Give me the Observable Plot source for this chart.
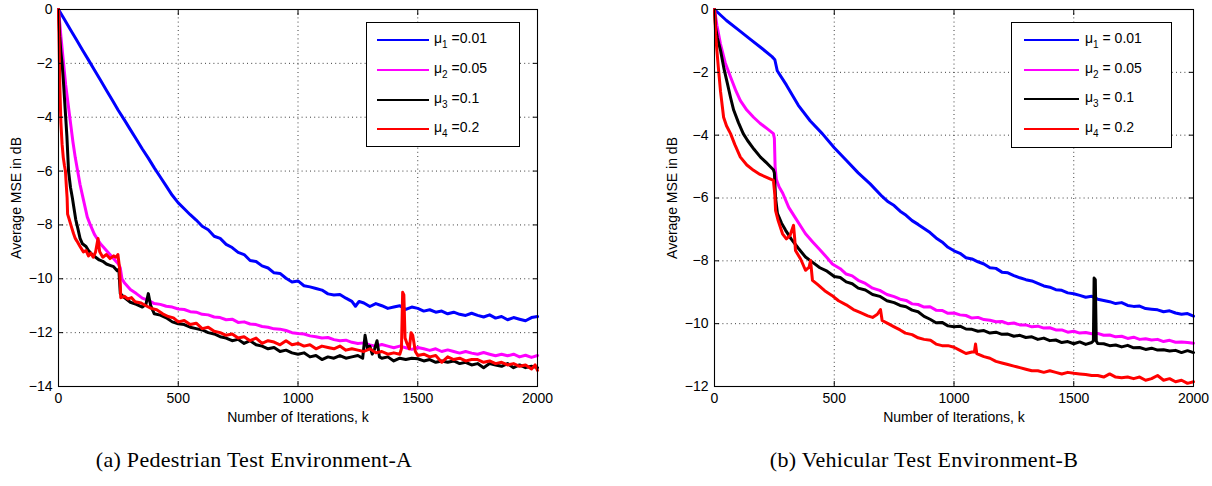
<!DOCTYPE html>
<html><head><meta charset="utf-8">
<script src="https://cdn.jsdelivr.net/npm/d3@7"></script>
<script src="https://cdn.jsdelivr.net/npm/@observablehq/plot@0.6"></script>
<style>
body{margin:0;background:#fff;}
#wrap{position:relative;width:1212px;height:486px;overflow:hidden;font-family:"Liberation Sans",Arial,sans-serif;color:#000;}
.panel{position:absolute;top:0;}
.legend{position:absolute;border:1px solid #000;background:#fff;box-sizing:border-box;}
.legend .sw{position:absolute;height:0;border-top:2.6px solid #000;}
.legend .lb{position:absolute;font-size:14px;line-height:14px;white-space:nowrap;}
.legend .lb sub{font-size:10px;vertical-align:-5px;line-height:0;}
.caption{position:absolute;font-family:"Liberation Serif","DejaVu Serif",serif;font-size:22px;letter-spacing:0.3px;white-space:nowrap;transform:translateX(-50%);}
</style>
</head><body>
<div id="wrap"></div>
<script>
// ---------- data ----------
const xTicks = [0, 500, 1000, 1500, 2000];
const yTicksA = [-14, -12, -10, -8, -6, -4, -2, 0];
const yTicksB = [-12, -10, -8, -6, -4, -2, 0];
const seriesSymbols = ["1", "2", "3", "4"];
const stepSizes = ["0.01", "0.05", "0.1", "0.2"];
const seriesColors = ["#0000ff", "#ff00ff", "#000000", "#ff0000"];
const captionA = "(a) Pedestrian Test Environment-A";
const captionB = "(b) Vehicular Test Environment-B";
const xLabel = "Number of Iterations, k";
const yLabel = "Average MSE in dB";

// Panel A (Pedestrian): [iteration, MSE dB]
const blueA = [[0,0],[25,-0.37],[50,-0.75],[75,-1.12],[100,-1.5],[125,-1.87],[150,-2.25],[175,-2.62],[200,-3.0],[225,-3.37],[250,-3.75],[275,-4.1],[300,-4.46],[325,-4.82],[350,-5.18],[375,-5.52],[400,-5.88],[425,-6.22],[450,-6.56],[475,-6.9],[500,-7.18],[525,-7.4],[550,-7.62],[575,-7.82],[600,-8.05],[625,-8.18],[650,-8.42],[675,-8.5],[700,-8.72],[725,-8.84],[750,-9.02],[775,-9.1],[800,-9.32],[825,-9.36],[850,-9.52],[875,-9.6],[900,-9.78],[925,-9.8],[950,-9.98],[975,-10.12],[1000,-10.08],[1025,-10.26],[1050,-10.3],[1075,-10.36],[1100,-10.42],[1125,-10.56],[1150,-10.6],[1175,-10.58],[1200,-10.72],[1225,-10.84],[1240,-11.02],[1255,-10.84],[1275,-10.9],[1300,-11.03],[1325,-10.92],[1350,-11.0],[1375,-11.1],[1400,-11.05],[1425,-11.0],[1450,-11.14],[1475,-11.05],[1500,-11.1],[1525,-11.2],[1550,-11.15],[1575,-11.24],[1600,-11.2],[1625,-11.3],[1650,-11.24],[1675,-11.32],[1700,-11.36],[1725,-11.28],[1750,-11.36],[1775,-11.42],[1800,-11.34],[1825,-11.46],[1850,-11.4],[1875,-11.52],[1900,-11.44],[1925,-11.5],[1950,-11.56],[1975,-11.44],[2000,-11.4]];
const magentaA = [[0,0],[10,-1.0],[20,-1.9],[30,-2.8],[40,-3.5],[50,-4.2],[60,-4.9],[70,-5.5],[80,-6.0],[90,-6.5],[100,-6.9],[110,-7.3],[120,-7.7],[133,-8.0],[150,-8.35],[175,-8.7],[200,-8.95],[225,-9.2],[250,-9.45],[258,-9.6],[265,-10.0],[275,-10.15],[300,-10.4],[325,-10.55],[350,-10.72],[375,-10.8],[400,-10.92],[425,-10.95],[450,-11.02],[475,-11.05],[500,-11.12],[525,-11.14],[550,-11.22],[575,-11.24],[600,-11.32],[625,-11.34],[650,-11.42],[675,-11.44],[700,-11.52],[725,-11.5],[750,-11.62],[775,-11.6],[800,-11.68],[825,-11.7],[850,-11.77],[875,-11.8],[900,-11.86],[925,-11.87],[950,-11.92],[975,-12.0],[1000,-12.03],[1025,-12.05],[1050,-12.12],[1075,-12.15],[1100,-12.2],[1125,-12.18],[1150,-12.26],[1175,-12.3],[1200,-12.28],[1225,-12.36],[1250,-12.4],[1275,-12.38],[1300,-12.46],[1325,-12.5],[1350,-12.44],[1375,-12.5],[1400,-12.56],[1425,-12.5],[1450,-12.56],[1475,-12.62],[1500,-12.55],[1525,-12.6],[1550,-12.66],[1575,-12.6],[1600,-12.7],[1625,-12.64],[1650,-12.7],[1675,-12.76],[1700,-12.7],[1725,-12.76],[1750,-12.8],[1775,-12.74],[1800,-12.8],[1825,-12.86],[1850,-12.8],[1875,-12.86],[1900,-12.8],[1925,-12.9],[1950,-12.84],[1975,-12.92],[2000,-12.85]];
const blackA = [[0,0],[5,-1.0],[10,-1.6],[15,-2.0],[20,-2.6],[25,-3.3],[30,-4.0],[35,-4.7],[42,-6.0],[50,-6.6],[58,-7.0],[65,-7.4],[72,-7.8],[80,-8.1],[90,-8.5],[100,-8.7],[115,-8.8],[125,-8.95],[140,-9.1],[155,-9.2],[170,-9.3],[185,-9.35],[200,-9.45],[215,-9.5],[230,-9.55],[245,-9.7],[252,-9.65],[258,-10.55],[275,-10.7],[300,-10.87],[325,-10.95],[350,-11.05],[365,-10.95],[375,-10.55],[385,-11.0],[400,-11.3],[425,-11.35],[450,-11.45],[475,-11.6],[500,-11.67],[525,-11.7],[550,-11.8],[575,-11.85],[600,-11.9],[625,-12.0],[650,-12.05],[675,-12.15],[700,-12.2],[725,-12.3],[750,-12.25],[775,-12.4],[800,-12.3],[825,-12.45],[850,-12.5],[875,-12.6],[900,-12.55],[925,-12.7],[950,-12.65],[975,-12.75],[1000,-12.8],[1025,-12.75],[1050,-12.9],[1075,-12.85],[1100,-13.0],[1125,-12.9],[1150,-12.95],[1175,-12.85],[1200,-12.95],[1225,-12.9],[1250,-12.85],[1270,-12.95],[1280,-12.1],[1290,-12.6],[1300,-12.5],[1310,-12.8],[1320,-12.6],[1330,-12.3],[1340,-12.9],[1350,-12.95],[1375,-12.9],[1400,-13.05],[1425,-12.95],[1450,-13.0],[1475,-12.95],[1500,-12.97],[1525,-13.05],[1550,-13.0],[1575,-13.1],[1600,-13.05],[1625,-13.1],[1650,-13.05],[1675,-13.15],[1700,-13.1],[1725,-13.2],[1750,-13.15],[1775,-13.3],[1800,-13.15],[1825,-13.2],[1850,-13.25],[1875,-13.15],[1900,-13.3],[1925,-13.2],[1950,-13.3],[1975,-13.25],[2000,-13.3]];
const redA = [[0,0],[3,-1.5],[6,-3.0],[10,-4.2],[15,-5.0],[20,-5.5],[25,-5.8],[29,-6.0],[33,-6.6],[36,-7.0],[38,-7.6],[45,-7.8],[55,-8.1],[63,-8.33],[70,-8.5],[77,-8.6],[90,-8.8],[104,-9.0],[115,-8.95],[125,-9.15],[135,-9.05],[145,-9.2],[155,-9.0],[165,-8.5],[172,-9.0],[185,-9.2],[200,-9.1],[215,-9.25],[230,-9.15],[240,-9.2],[248,-9.1],[255,-9.6],[260,-10.7],[275,-10.65],[290,-10.75],[305,-10.7],[320,-10.85],[345,-10.9],[365,-11.0],[387,-11.1],[410,-11.15],[435,-11.3],[458,-11.4],[480,-11.45],[500,-11.6],[525,-11.55],[550,-11.7],[575,-11.65],[600,-11.85],[625,-11.8],[650,-11.95],[675,-12.0],[700,-12.1],[725,-12.05],[750,-12.2],[775,-12.15],[800,-12.3],[825,-12.2],[850,-12.4],[875,-12.3],[900,-12.35],[925,-12.45],[950,-12.3],[975,-12.45],[1000,-12.4],[1025,-12.5],[1050,-12.45],[1075,-12.6],[1100,-12.5],[1125,-12.55],[1150,-12.6],[1175,-12.5],[1200,-12.65],[1225,-12.6],[1250,-12.65],[1275,-12.7],[1300,-12.6],[1325,-12.75],[1350,-12.7],[1375,-12.8],[1400,-12.75],[1425,-12.8],[1432,-12.6],[1437,-10.5],[1442,-10.6],[1447,-12.2],[1455,-12.4],[1465,-12.6],[1472,-12.0],[1479,-12.1],[1490,-12.7],[1500,-12.85],[1525,-12.8],[1550,-12.9],[1575,-12.85],[1600,-13.1],[1625,-12.9],[1650,-13.0],[1675,-12.95],[1700,-13.05],[1725,-13.0],[1750,-13.0],[1775,-13.1],[1800,-13.05],[1825,-13.15],[1850,-13.1],[1875,-13.2],[1900,-13.15],[1925,-13.25],[1950,-13.2],[1975,-13.35],[1990,-13.2],[2000,-13.4]];

// Panel B (Vehicular): [iteration, MSE dB]
const blueB = [[0,0],[50,-0.35],[100,-0.65],[150,-0.95],[200,-1.25],[240,-1.5],[252,-1.6],[262,-1.95],[300,-2.4],[350,-3.05],[400,-3.55],[450,-3.95],[500,-4.4],[550,-4.8],[600,-5.2],[650,-5.55],[700,-5.95],[725,-6.12],[750,-6.24],[775,-6.42],[800,-6.55],[825,-6.72],[850,-6.84],[875,-6.97],[900,-7.1],[925,-7.27],[950,-7.4],[975,-7.57],[1000,-7.68],[1025,-7.76],[1050,-7.9],[1075,-7.94],[1100,-8.03],[1125,-8.1],[1150,-8.22],[1175,-8.24],[1200,-8.36],[1225,-8.38],[1250,-8.47],[1275,-8.54],[1300,-8.6],[1325,-8.64],[1350,-8.72],[1375,-8.8],[1400,-8.84],[1425,-8.92],[1450,-8.94],[1475,-9.02],[1500,-9.05],[1525,-9.1],[1550,-9.16],[1575,-9.13],[1600,-9.22],[1625,-9.26],[1650,-9.3],[1675,-9.36],[1700,-9.33],[1725,-9.42],[1750,-9.45],[1775,-9.44],[1800,-9.52],[1825,-9.54],[1850,-9.56],[1875,-9.62],[1900,-9.59],[1925,-9.66],[1950,-9.7],[1975,-9.68],[2000,-9.76]];
const magentaB = [[0,0],[10,-0.5],[25,-1.1],[45,-1.7],[67,-2.15],[90,-2.6],[108,-2.9],[135,-3.2],[163,-3.43],[190,-3.62],[221,-3.8],[246,-3.95],[250,-4.1],[253,-5.0],[258,-5.4],[270,-5.65],[285,-5.85],[310,-6.3],[335,-6.6],[360,-6.9],[380,-7.14],[410,-7.4],[440,-7.65],[470,-7.9],[492,-8.1],[525,-8.25],[550,-8.42],[575,-8.48],[600,-8.62],[630,-8.72],[660,-8.87],[690,-8.94],[720,-9.07],[750,-9.14],[775,-9.22],[800,-9.26],[825,-9.37],[850,-9.39],[875,-9.47],[900,-9.46],[925,-9.57],[950,-9.58],[975,-9.67],[1000,-9.66],[1025,-9.72],[1050,-9.74],[1075,-9.82],[1100,-9.8],[1125,-9.87],[1150,-9.89],[1175,-9.94],[1200,-9.93],[1225,-10.0],[1250,-9.98],[1275,-10.04],[1300,-10.04],[1325,-10.1],[1350,-10.08],[1375,-10.14],[1400,-10.13],[1425,-10.2],[1450,-10.2],[1475,-10.27],[1500,-10.24],[1525,-10.3],[1550,-10.28],[1575,-10.32],[1600,-10.31],[1625,-10.37],[1650,-10.36],[1675,-10.42],[1700,-10.4],[1725,-10.47],[1750,-10.43],[1775,-10.5],[1800,-10.48],[1825,-10.52],[1850,-10.5],[1875,-10.57],[1900,-10.53],[1925,-10.59],[1950,-10.58],[1975,-10.6],[2000,-10.62]];
const blackB = [[0,0],[5,-0.6],[12,-0.9],[25,-1.3],[40,-1.9],[54,-2.36],[67,-2.8],[80,-3.2],[100,-3.6],[120,-3.95],[138,-4.17],[165,-4.45],[192,-4.7],[220,-4.9],[246,-5.1],[250,-5.2],[255,-6.0],[263,-6.5],[280,-6.8],[297,-7.03],[320,-7.3],[350,-7.6],[380,-7.88],[410,-8.05],[440,-8.22],[470,-8.33],[500,-8.5],[525,-8.53],[550,-8.67],[575,-8.73],[600,-8.87],[630,-8.93],[660,-9.07],[690,-9.13],[720,-9.27],[750,-9.33],[775,-9.42],[800,-9.46],[825,-9.57],[850,-9.62],[875,-9.77],[900,-9.86],[925,-9.97],[950,-9.96],[975,-10.07],[1000,-10.1],[1025,-10.08],[1050,-10.17],[1075,-10.18],[1100,-10.24],[1125,-10.22],[1150,-10.3],[1175,-10.27],[1200,-10.34],[1225,-10.33],[1250,-10.4],[1275,-10.37],[1300,-10.44],[1325,-10.42],[1350,-10.5],[1375,-10.46],[1400,-10.54],[1425,-10.52],[1450,-10.6],[1475,-10.57],[1500,-10.64],[1525,-10.58],[1550,-10.66],[1575,-10.6],[1582,-10.55],[1585,-8.55],[1590,-8.6],[1594,-10.55],[1600,-10.63],[1625,-10.64],[1650,-10.7],[1675,-10.68],[1700,-10.74],[1725,-10.69],[1750,-10.77],[1775,-10.76],[1800,-10.82],[1825,-10.78],[1850,-10.84],[1875,-10.83],[1900,-10.87],[1925,-10.85],[1950,-10.92],[1975,-10.86],[2000,-10.92]];
const redB = [[0,0],[5,-0.8],[10,-1.3],[16,-1.84],[25,-2.6],[38,-3.43],[50,-3.7],[67,-3.95],[85,-4.3],[108,-4.7],[135,-4.95],[163,-5.12],[190,-5.25],[220,-5.35],[246,-5.44],[252,-5.9],[255,-6.4],[265,-6.7],[284,-7.14],[300,-7.3],[315,-7.2],[330,-6.87],[335,-7.3],[338,-7.67],[360,-7.95],[380,-8.3],[395,-8.2],[401,-7.99],[409,-8.62],[430,-8.75],[460,-8.95],[490,-9.1],[518,-9.27],[550,-9.4],[580,-9.55],[610,-9.65],[640,-9.75],[660,-9.8],[680,-9.7],[693,-9.55],[700,-9.9],[725,-10.0],[750,-10.1],[775,-10.2],[797,-10.3],[825,-10.35],[850,-10.45],[875,-10.5],[902,-10.53],[925,-10.65],[950,-10.7],[975,-10.7],[1000,-10.75],[1025,-10.85],[1050,-10.95],[1075,-10.9],[1085,-10.9],[1090,-10.65],[1095,-10.95],[1125,-11.05],[1150,-11.1],[1175,-11.2],[1200,-11.25],[1225,-11.3],[1250,-11.35],[1275,-11.4],[1300,-11.45],[1325,-11.5],[1350,-11.5],[1375,-11.55],[1400,-11.5],[1425,-11.55],[1450,-11.6],[1475,-11.55],[1500,-11.58],[1525,-11.6],[1550,-11.62],[1575,-11.65],[1600,-11.65],[1625,-11.7],[1650,-11.6],[1675,-11.7],[1700,-11.72],[1725,-11.7],[1750,-11.75],[1775,-11.7],[1800,-11.8],[1825,-11.75],[1850,-11.65],[1875,-11.8],[1900,-11.75],[1925,-11.85],[1950,-11.8],[1975,-11.9],[2000,-11.85]];

// ---------- drawing ----------
const wrap = document.getElementById("wrap");
const FONT = '"Liberation Sans", Arial, Helvetica, sans-serif';

function makePanel({series, yDomain, yTicks, width, marginLeft, marginRight}) {
  const gridStyle = {stroke: "#000", strokeOpacity: 0.85, strokeWidth: 0.9, strokeDasharray: "1,3.2"};
  return Plot.plot({
    width, height: 440,
    marginLeft, marginRight, marginTop: 9, marginBottom: 54,
    style: {fontFamily: FONT, fontSize: "14px", color: "#000", background: "transparent", overflow: "visible"},
    x: {domain: [0, 2000]},
    y: {domain: yDomain},
    marks: [
      Plot.gridX(xTicks.slice(1, -1), gridStyle),
      Plot.gridY(yTicks.slice(1, -1), gridStyle),
      ...series.map((pts, i) => Plot.line(pts, {
        x: d => d[0], y: d => d[1],
        stroke: seriesColors[i], strokeWidth: 3, strokeLinejoin: "round", strokeLinecap: "round"
      })),
      Plot.frame({stroke: "#000", strokeWidth: 1.1}),
      Plot.axisX(xTicks, {anchor: "bottom", tickSize: 0, tickPadding: 7, tickFormat: d => String(d),
        label: xLabel, labelArrow: "none", labelAnchor: "center", labelOffset: 35}),
      Plot.axisX(xTicks, {anchor: "bottom", tickSize: 5, dy: -5, text: null, label: null}),
      Plot.axisX(xTicks, {anchor: "top", tickSize: 5, dy: 5, text: null, label: null}),
      Plot.axisY(yTicks, {anchor: "left", tickSize: 0, tickPadding: 6, tickFormat: d => d === 0 ? "0" : "\u2212" + Math.abs(d),
        label: yLabel, labelArrow: "none", labelAnchor: "center", labelOffset: 47}),
      Plot.axisY(yTicks, {anchor: "left", tickSize: 5, dx: 5, text: null, label: null}),
      Plot.axisY(yTicks, {anchor: "right", tickSize: 5, dx: -5, text: null, label: null})
    ]
  });
}

function addLegend(box, lineX1, lineX2, textX, rowYs, spaced) {
  const lg = document.createElement("div");
  lg.className = "legend";
  Object.assign(lg.style, {left: box[0] + "px", top: box[1] + "px", width: box[2] + "px", height: box[3] + "px"});
  stepSizes.forEach((v, i) => {
    const sw = document.createElement("div");
    sw.className = "sw";
    Object.assign(sw.style, {left: lineX1 + "px", width: (lineX2 - lineX1) + "px", top: (rowYs[i] - 1.3) + "px", borderTopColor: seriesColors[i]});
    lg.appendChild(sw);
    const lb = document.createElement("div");
    lb.className = "lb";
    lb.innerHTML = "\u03bc<sub>" + seriesSymbols[i] + "</sub> =" + (spaced ? " " : "") + v;
    Object.assign(lb.style, {left: textX + "px", top: (rowYs[i] - 9) + "px"});
    lg.appendChild(lb);
  });
  wrap.appendChild(lg);
}

function addCaption(text, cx, top) {
  const c = document.createElement("div");
  c.className = "caption";
  c.textContent = text;
  Object.assign(c.style, {left: cx + "px", top: top + "px"});
  wrap.appendChild(c);
}

const pA = makePanel({series: [blueA, magentaA, blackA, redA], yDomain: [-14, 0], yTicks: yTicksA, width: 606, marginLeft: 58, marginRight: 69});
pA.classList.add("panel"); pA.style.left = "0px";
wrap.appendChild(pA);

const pB = makePanel({series: [blueB, magentaB, blackB, redB], yDomain: [-12, 0], yTicks: yTicksB, width: 606, marginLeft: 108, marginRight: 19});
pB.classList.add("panel"); pB.style.left = "606px";
wrap.appendChild(pB);

addLegend([366, 22, 154, 125], 10, 62, 67, [17, 47, 77, 106], false);
addLegend([1011, 22, 161, 126], 12, 67, 73, [17, 47, 76, 106], true);

addCaption(captionA, 254, 447);
addCaption(captionB, 924, 447);
</script>
</body></html>
